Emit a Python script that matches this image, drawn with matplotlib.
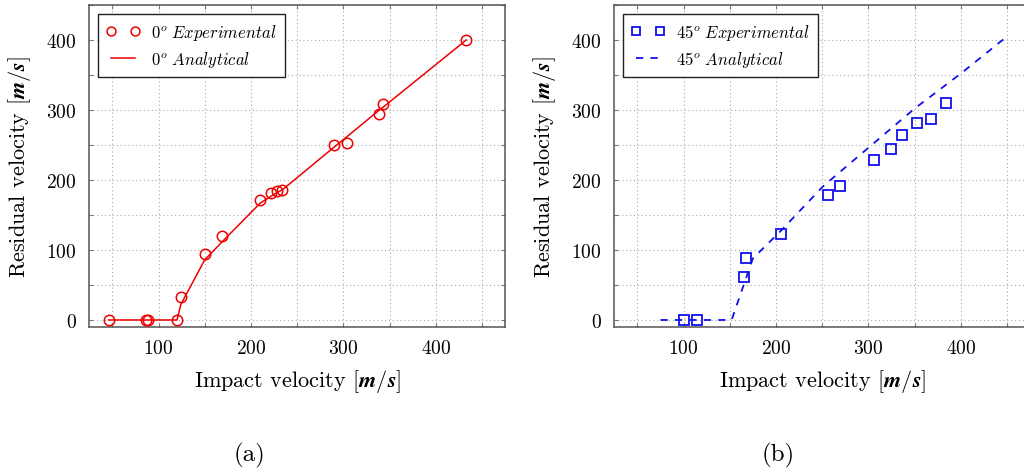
import numpy as np
import matplotlib
matplotlib.use("Agg")
import matplotlib.pyplot as plt
from matplotlib.ticker import MultipleLocator

plt.rcParams["font.family"] = "cmr10"
plt.rcParams["mathtext.fontset"] = "cm"
plt.rcParams["axes.formatter.use_mathtext"] = True

# (a) 0 degree impact
exp0_x = [46, 86, 89, 120, 124, 150, 169, 210, 222, 228, 234, 290, 304, 339, 343, 433]
exp0_y = [0, 0, 0, 0, 33, 94, 120, 172, 182, 184, 186, 250, 253, 294, 309, 400]
ana0_x = [46, 87, 120, 124, 150, 169, 210, 222, 228, 234, 290, 304, 339, 343, 433]
ana0_y = [0, 0, 0, 22, 86, 112, 167, 177, 182, 186, 247, 262, 300, 304, 400]

# (b) 45 degree impact
exp45_x = [100, 114, 165, 168, 205, 256, 269, 306, 325, 336, 353, 368, 384]
exp45_y = [0, 0, 61, 88, 123, 178, 191, 229, 244, 265, 281, 287, 310]
ana45_x = [75, 152, 175, 205, 251, 300, 350, 400, 450]
ana45_y = [0, 0, 88, 127, 191, 246, 302, 352, 405]

RED = "#ee0000"
BLUE = "#1010ee"
SPINE = "#555555"


def style_axes(ax):
    ax.set_xlim(25, 475)
    ax.set_ylim(-10, 450)
    ax.xaxis.set_major_locator(MultipleLocator(100))
    ax.xaxis.set_minor_locator(MultipleLocator(50))
    ax.yaxis.set_major_locator(MultipleLocator(100))
    ax.yaxis.set_minor_locator(MultipleLocator(50))
    ax.grid(True, which="both", color="#a8a8a8", lw=0.8, ls=(0, (1, 2.5)))
    ax.set_axisbelow(True)
    ax.tick_params(which="both", direction="in", top=True, right=True,
                   length=3, width=0.8, color="#777777", labelsize=14, pad=9)
    for s in ax.spines.values():
        s.set_color(SPINE)
        s.set_linewidth(1.1)
    ax.set_xlabel(r"Impact velocity [$\boldsymbol{m/s}$]", fontsize=16, labelpad=7)
    ax.set_ylabel(r"Residual velocity [$\boldsymbol{m/s}$]", fontsize=16, labelpad=10)


fig = plt.figure(figsize=(10.24, 4.77), dpi=100)
ax1 = fig.add_axes([0.0872, 0.3124, 0.406, 0.675])
ax2 = fig.add_axes([0.5999, 0.3124, 0.406, 0.675])

ax1.plot(exp0_x, exp0_y, ls="none", marker="o", ms=7.5, mfc="none", mec=RED,
         mew=1.1, label=r"$0^o\ Experimental$", zorder=3)
ax1.plot(ana0_x, ana0_y, color=RED, lw=1.1, label=r"$0^o\ Analytical$", zorder=2)

ax2.plot(exp45_x, exp45_y, ls="none", marker="s", ms=7.5, mfc="none", mec=BLUE,
         mew=1.3, label=r"$45^o\ Experimental$", zorder=3)
ax2.plot(ana45_x, ana45_y, color=BLUE, lw=1.3, ls=(0, (4, 4)),
         label=r"$45^o\ Analytical$", zorder=2)

for ax in (ax1, ax2):
    style_axes(ax)
    leg = ax.legend(loc="upper left", bbox_to_anchor=(0.021, 0.973), borderaxespad=0,
                    numpoints=2, fontsize=12, fancybox=False, markerscale=0.85,
                    framealpha=1, edgecolor="#222222", handlelength=2.0,
                    handletextpad=0.7, borderpad=0.5, labelspacing=0.4)
    leg.get_frame().set_linewidth(1.0)

fig.text(0.244, 0.045, "(a)", fontsize=18, ha="center", va="center")
fig.text(0.760, 0.045, "(b)", fontsize=18, ha="center", va="center")

fig.savefig("out.png", dpi=100)
